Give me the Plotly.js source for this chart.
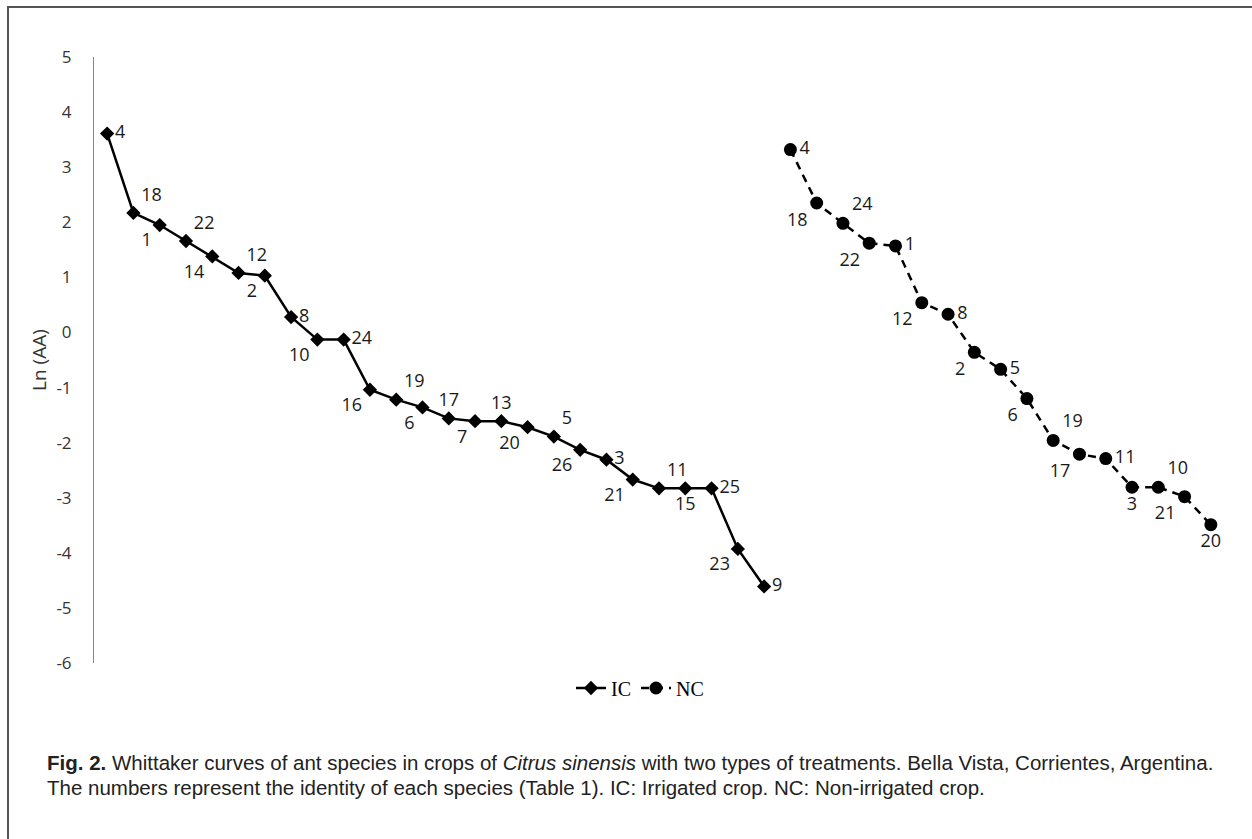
<!DOCTYPE html>
<html>
<head>
<meta charset="utf-8">
<script src="https://cdn.plot.ly/plotly-3.0.1.min.js"></script>
<style>
  html, body { margin: 0; padding: 0; background: #fff; }
  #wrap { position: relative; width: 1252px; height: 839px; overflow: hidden; }
  #chart { position: absolute; left: 0; top: 0; width: 1252px; height: 839px; }
  #frame { position: absolute; left: 7px; top: 6px; width: 1260px; height: 850px;
           border-left: 2px solid #555; border-top: 2px solid #555; pointer-events: none; }
</style>
</head>
<body>
<div id="wrap">
  <div id="chart"></div>
  <div id="frame"></div>
</div>
<script>
// Species identity numbers (data labels), in rank order
const icSpecies = [4, 18, 1, 22, 14, 12, 2, 8, 10, 24, 16, 19, 6, 17, 7, 13, 20, 5, 26, 3, 21, 11, 15, 25, 23, 9];
const icValues  = [3.61, 2.17, 1.95, 1.66, 1.38, 1.08, 1.03, 0.28, -0.13, -0.13, -1.04, -1.22, -1.36, -1.56, -1.61, -1.61, -1.72, -1.89, -2.13, -2.31, -2.67, -2.83, -2.83, -2.83, -3.93, -4.61];

const ncSpecies = [4, 18, 24, 22, 1, 12, 8, 2, 5, 6, 19, 17, 11, 3, 10, 21, 20];
const ncValues  = [3.32, 2.35, 1.98, 1.62, 1.57, 0.54, 0.33, -0.36, -0.67, -1.20, -1.96, -2.21, -2.29, -2.81, -2.81, -2.98, -3.49];

const yTicks = [5, 4, 3, 2, 1, 0, -1, -2, -3, -4, -5, -6];

// label placement (style only)
const icTextPos = ['middle right','top right','bottom left','top right','bottom left','top right','bottom left',
  'middle right','bottom left','middle right','bottom left','top right','bottom left','top center','bottom left',
  'top center','bottom left','top right','bottom left','middle right','bottom left','top right','bottom center',
  'middle right','bottom left','middle right'];
const ncTextPos = ['middle right','bottom left','top right','bottom left','middle right','bottom left','middle right',
  'bottom left','middle right','bottom left','top right','bottom left','middle right','bottom center','top right',
  'bottom left','bottom center'];

// categories along the rank axis: IC first, then NC after
const icX = icSpecies.map((_, i) => i + 1);
const ncX = ncSpecies.map((_, i) => icSpecies.length + 1 + i);

const labelFont = { family: 'Open Sans, Noto Sans, sans-serif', size: 18, color: '#1a1a1a' };

const traces = [
  {
    name: 'IC', x: icX, y: icValues, type: 'scatter', mode: 'lines+markers+text',
    text: icSpecies.map(String), textposition: icTextPos, textfont: labelFont,
    line: { color: '#000', width: 2.5 },
    marker: { symbol: 'diamond', size: 11, color: '#000' },
    hoverinfo: 'x+y+text'
  },
  {
    name: 'NC', x: ncX, y: ncValues, type: 'scatter', mode: 'lines+markers+text',
    text: ncSpecies.map(String), textposition: ncTextPos, textfont: labelFont,
    line: { color: '#000', width: 2.5, dash: '8px,6px' },
    marker: { symbol: 'circle', size: 13, color: '#000' },
    hoverinfo: 'x+y+text'
  }
];

const L = 94, R = 28, T = 57, B = 176;
const W = 1252, H = 839;
const pw = W - L - R, ph = H - T - B;
const px = v => (v - L) / pw;
const py = v => (H - B - v) / ph;

const captionFont = { family: 'Liberation Sans, Arial, sans-serif', size: 20.5, color: '#222' };

const layout = {
  width: W, height: H,
  margin: { l: L, r: R, t: T, b: B, pad: 0 },
  paper_bgcolor: '#fff', plot_bgcolor: '#fff',
  showlegend: true,
  legend: {
    orientation: 'h', x: px(640), xanchor: 'center', y: py(688), yanchor: 'middle',
    font: { family: 'Liberation Serif, Times New Roman, serif', size: 20, color: '#000' },
    itemwidth: 30, tracegroupgap: 0, bgcolor: 'rgba(0,0,0,0)'
  },
  xaxis: {
    range: [0.5, icSpecies.length + ncSpecies.length + 0.5],
    visible: false, showgrid: false, zeroline: false, fixedrange: true
  },
  yaxis: {
    range: [-6, 5], tickvals: yTicks, ticktext: yTicks.map(String),
    showgrid: false, zeroline: false, showline: true, linecolor: '#888', linewidth: 1,
    ticks: '', ticklabelstandoff: 18,
    tickfont: { family: 'Open Sans, Noto Sans, sans-serif', size: 17, color: '#333' },
    title: { text: 'Ln (AA)', standoff: 4, font: { family: 'Open Sans, Noto Sans, sans-serif', size: 19, color: '#333' } },
    automargin: false, fixedrange: true
  },
  annotations: [
    {
      xref: 'paper', yref: 'paper', x: px(45), y: py(762), xanchor: 'left', yanchor: 'middle',
      showarrow: false, align: 'left',
      text: '<b>Fig. 2.</b> Whittaker curves of ant species in crops of <i>Citrus sinensis</i> with two types of treatments. Bella Vista, Corrientes, Argentina.',
      font: captionFont
    },
    {
      xref: 'paper', yref: 'paper', x: px(45), y: py(787), xanchor: 'left', yanchor: 'middle',
      showarrow: false, align: 'left',
      text: 'The numbers represent the identity of each species (Table 1). IC: Irrigated crop. NC: Non-irrigated crop.',
      font: captionFont
    }
  ]
};

Plotly.newPlot('chart', traces, layout, { displayModeBar: false, staticPlot: true });
</script>
</body>
</html>
